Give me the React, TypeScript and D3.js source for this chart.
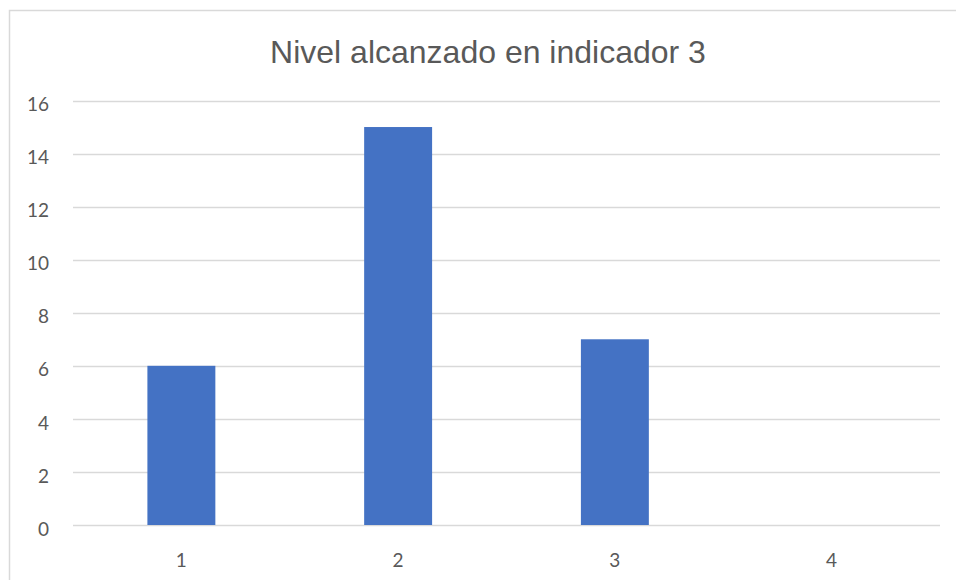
import React, { useRef, useEffect } from "react";
import * as d3 from "d3";

const categories = ["1", "2", "3", "4"];
const values = [6, 15, 7, 0];
const yTicks = [0, 2, 4, 6, 8, 10, 12, 14, 16];
const title = "Nivel alcanzado en indicador 3";

const App = () => {
  const chartRef = useRef<SVGSVGElement>(null);

  useEffect(() => {
    if (chartRef.current === null) return;
    document.body.style.margin = "0";
    const svg = d3.select(chartRef.current);
    svg.selectAll("*").remove();

    const width = 956;
    const height = 580;
    const plot = { left: 73, right: 940, top: 100.5, bottom: 525 };

    const xScale = d3
      .scaleBand<string>()
      .domain(categories)
      .range([plot.left, plot.right])
      .paddingInner(0)
      .paddingOuter(0);

    const yScale = d3.scaleLinear().domain([0, 16]).range([plot.bottom, plot.top]);

    svg.attr("width", width).attr("height", height);

    // chart area border
    svg
      .append("rect")
      .attr("x", 9.5)
      .attr("y", 10.5)
      .attr("width", 960)
      .attr("height", 600)
      .attr("fill", "#fff")
      .attr("stroke", "#d9d9d9")
      .attr("stroke-width", 1.5);

    svg
      .append("text")
      .attr("x", 488)
      .attr("y", 63)
      .attr("text-anchor", "middle")
      .attr("font-family", "Liberation Sans, Arial, sans-serif")
      .attr("font-size", 32)
      .attr("fill", "#595959")
      .text(title);

    // gridlines
    svg
      .append("g")
      .selectAll("line")
      .data(yTicks)
      .enter()
      .append("line")
      .attr("x1", plot.left)
      .attr("x2", plot.right)
      .attr("y1", (d) => Math.round(yScale(d)) + 0.5)
      .attr("y2", (d) => Math.round(yScale(d)) + 0.5)
      .attr("stroke", "#d9d9d9")
      .attr("stroke-width", 1.5);

    svg
      .append("g")
      .selectAll("text")
      .data(yTicks)
      .enter()
      .append("text")
      .attr("x", 49)
      .attr("y", (d) => yScale(d) + 4)
      .attr("dy", "0.35em")
      .attr("text-anchor", "end")
      .attr("font-family", "Lato, Open Sans, sans-serif")
      .attr("font-size", 19)
      .attr("fill", "#595959")
      .text((d) => d);

    const barWidth = xScale.bandwidth() / 3.19;
    svg
      .append("g")
      .selectAll("rect")
      .data(values)
      .enter()
      .append("rect")
      .attr("x", (d, i) => xScale(categories[i])! + (xScale.bandwidth() - barWidth) / 2)
      .attr("y", (d) => yScale(d))
      .attr("width", barWidth)
      .attr("height", (d) => yScale(0) - yScale(d))
      .attr("fill", "#4472c4");

    svg
      .append("g")
      .selectAll("text")
      .data(categories)
      .enter()
      .append("text")
      .attr("x", (d) => xScale(d)! + xScale.bandwidth() / 2)
      .attr("y", 560)
      .attr("dy", "0.35em")
      .attr("text-anchor", "middle")
      .attr("font-family", "Lato, Open Sans, sans-serif")
      .attr("font-size", 19)
      .attr("fill", "#595959")
      .text((d) => d);
  }, []);

  return (
    <div style={{ width: 956, height: 580, overflow: "hidden" }}>
      <svg ref={chartRef} style={{ display: "block" }}></svg>
    </div>
  );
};

export default App;
